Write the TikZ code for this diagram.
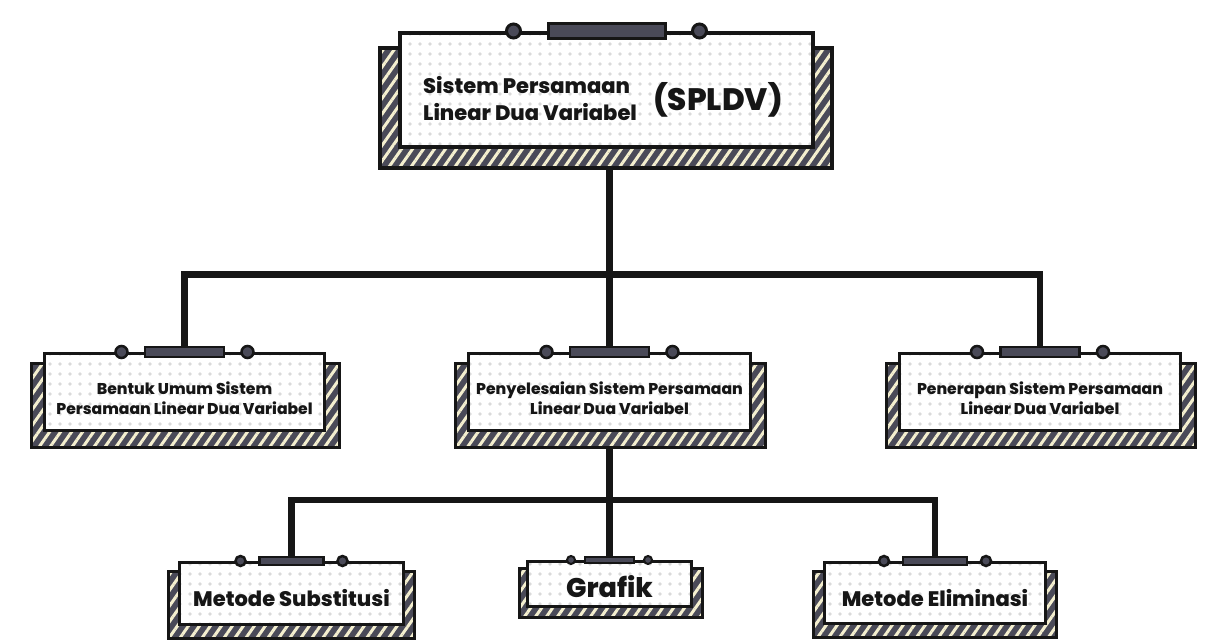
\documentclass[tikz,border=0pt]{standalone}
\usepackage{fontspec}
\setmainfont{Poppins}[BoldFont={* ExtraBold}]
\usetikzlibrary{patterns.meta,backgrounds}

\definecolor{slate}{HTML}{4A4A58}
\definecolor{cream}{HTML}{F4EFCF}
\definecolor{speck}{HTML}{DADADA}
\definecolor{ink}{HTML}{161616}

\begin{document}
\begin{tikzpicture}[x=1pt,y=-1pt]
\tikzstyle{every node}+=[inner sep=0pt]
\tikzstyle{card}=[draw=ink,line width=3pt,preaction={fill=white},pattern={Dots[distance=10pt,radius=1.8pt]},pattern color=speck]
\tikzstyle{ledge}=[draw=ink,line width=3pt,preaction={fill=slate},pattern={Lines[angle=55,distance=9pt,line width=3pt]},pattern color=cream]
\tikzstyle{tab}=[draw=ink,line width=2.5pt,fill=slate]
\tikzstyle{knob}=[circle,draw=ink,line width=2.5pt,fill=slate]
\tikzstyle{link}=[draw=ink,line width=6.5pt]
\tikzstyle{caption}=[align=center,text=ink,font=\bfseries\fontsize{15.6}{20}\selectfont]
\tikzstyle{title}=[align=center,text=ink,font=\bfseries\fontsize{21}{27}\selectfont]

\useasboundingbox (0,0) rectangle (1219,644);

% top box
\node[card,line width=4pt,minimum width=413pt,minimum height=114pt] (top) at (606.5,90) {};
\node[title,anchor=west,align=left] (top-text) at (423,99) {Sistem Persamaan\\Linear Dua Variabel};
\node[title,font=\bfseries\fontsize{31}{31}\selectfont] (top-abbr) at (718,100) {(SPLDV)};
\node[tab,line width=3pt,minimum width=117pt,minimum height=15pt] (top-tab) at (top.north) {};
\node[knob,line width=3pt,minimum size=14pt] (top-knobl) at ([xshift=-93pt]top.north) {};
\node[knob,line width=3pt,minimum size=14pt] (top-knobr) at ([xshift=93pt]top.north) {};

% second row
\node[card,minimum width=280pt,minimum height=77pt] (b1) at (184.5,392) {};
\node[card,minimum width=282pt,minimum height=77pt] (b2) at (609.5,392) {};
\node[card,minimum width=281pt,minimum height=77pt] (b3) at (1040,392) {};
\node[caption] (b1-text) at ([yshift=-6pt]b1.center) {Bentuk Umum Sistem\\Persamaan Linear Dua Variabel};
\node[caption] (b2-text) at ([yshift=-6pt]b2.center) {Penyelesaian Sistem Persamaan\\Linear Dua Variabel};
\node[caption] (b3-text) at ([yshift=-6pt]b3.center) {Penerapan Sistem Persamaan\\Linear Dua Variabel};
\foreach \n in {b1,b2,b3} {
  \node[tab,minimum width=79pt,minimum height=10pt] (\n-tab) at (\n.north) {};
  \node[knob,minimum size=12pt] (\n-knobl) at ([xshift=-63pt]\n.north) {};
  \node[knob,minimum size=12pt] (\n-knobr) at ([xshift=63pt]\n.north) {};
}

% third row
\node[card,minimum width=224pt,minimum height=62pt] (c1) at (291.5,593.5) {};
\node[card,minimum width=164pt,minimum height=45pt] (c2) at (609.5,584) {};
\node[card,minimum width=221pt,minimum height=61pt] (c3) at (935,593) {};
\node[title] (c1-text) at ([yshift=-5pt]c1.center) {Metode Substitusi};
\node[title,font=\bfseries\fontsize{27}{27}\selectfont] (c2-text) at ([yshift=-3pt]c2.center) {Grafik};
\node[title] (c3-text) at ([yshift=-5pt]c3.center) {Metode Eliminasi};
\foreach \n in {c1,c3} {
  \node[tab,minimum width=64pt,minimum height=8pt] (\n-tab) at (\n.north) {};
  \node[knob,minimum size=10pt] (\n-knobl) at ([xshift=-51pt]\n.north) {};
  \node[knob,minimum size=10pt] (\n-knobr) at ([xshift=51pt]\n.north) {};
}
\node[tab,line width=2pt,minimum width=49pt,minimum height=6pt] (c2-tab) at (c2.north) {};
\node[knob,line width=2pt,minimum size=8pt] (c2-knobl) at ([xshift=-38.5pt]c2.north) {};
\node[knob,line width=2pt,minimum size=8pt] (c2-knobr) at ([xshift=38.5pt]c2.north) {};

\coordinate (hub1) at (609.5,274.5);
\coordinate (hub2) at (609.5,500);

\begin{scope}[on background layer]
% connectors
\draw[link] (top.south -| b2-tab) -- (b2-tab);
\draw[link] (b1-tab) |- (hub1) -| (b3-tab);
\draw[link] (b2) -- (c2-tab);
\draw[link] (c1-tab) |- (hub2) -| (c3-tab);
% hatched ledges
\draw[ledge,line width=4pt] ([xshift=-18pt,yshift=-17pt]top.north west) rectangle ([xshift=17pt,yshift=-19pt]top.south east);
\foreach \n in {b1,b2,b3}
  \draw[ledge] ([xshift=-12pt,yshift=-12pt]\n.north west) rectangle ([xshift=13pt,yshift=-15pt]\n.south east);
\foreach \n in {c1,c3}
  \draw[ledge] ([xshift=-10pt,yshift=-10pt]\n.north west) rectangle ([xshift=9pt,yshift=-12pt]\n.south east);
\draw[ledge] ([xshift=-7pt,yshift=-8pt]c2.north west) rectangle ([xshift=9pt,yshift=-9pt]c2.south east);
\end{scope}
\end{tikzpicture}
\end{document}
